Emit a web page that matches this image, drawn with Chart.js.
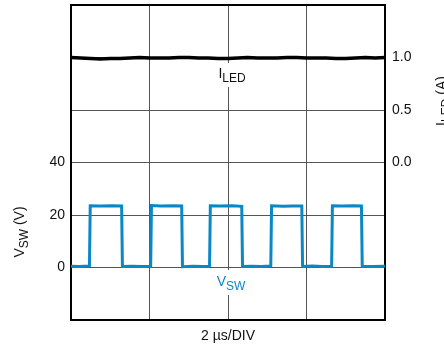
<!DOCTYPE html>
<html>
<head>
<meta charset="utf-8">
<script src="https://cdn.jsdelivr.net/npm/chart.js@4"></script>
<style>
  body { margin: 0; background: #fff; }
  #wrap { width: 444px; height: 347px; }
</style>
</head>
<body>
<div id="wrap"><canvas id="scope"></canvas></div>
<script>
// time axis in µs, 2 µs per division
const xTicks = [0, 2, 4, 6, 8]
const vswTicksShown = [0, 20, 40]
const iledTicksShown = [0, 0.5, 1]

// switch node voltage (V)
const vswTime = [
  0.00, 0.20, 0.47, 0.49, 0.75, 1.05, 1.29, 1.31, 1.55, 1.80, 2.03, 2.05,
  2.30, 2.60, 2.82, 2.84, 3.10, 3.35, 3.53, 3.55, 3.80, 4.10, 4.35, 4.37,
  4.60, 4.85, 5.09, 5.11, 5.40, 5.65, 5.88, 5.90, 6.15, 6.40, 6.64, 6.66,
  6.90, 7.20, 7.40, 7.42, 7.70, 8.00
]
const vswVolts = [
  0.5, 0.4, 0.6, 23.5, 23.4, 23.5, 23.4, 0.4, 0.5, 0.4, 0.5, 23.6,
  23.4, 23.5, 23.4, 0.3, 0.5, 0.4, 0.5, 23.5, 23.4, 23.5, 23.3, 0.4,
  0.5, 0.4, 0.6, 23.5, 23.3, 23.4, 23.4, 0.4, 0.6, 0.4, 0.5, 23.5,
  23.4, 23.5, 23.4, 0.5, 0.4, 0.5
]

// LED current (A)
const iledTime = [
  0.00, 0.25, 0.50, 0.75, 1.00, 1.25, 1.50, 1.75, 2.00, 2.25, 2.50, 2.75,
  3.00, 3.25, 3.50, 3.75, 4.00, 4.25, 4.50, 4.75, 5.00, 5.25, 5.50, 5.75,
  6.00, 6.25, 6.50, 6.75, 7.00, 7.25, 7.50, 7.75, 8.00
]
const iledAmps = [
  1.00, 0.995, 0.99, 0.985, 0.99, 0.99, 0.995, 1.00, 0.995, 0.995, 0.995, 1.00,
  1.00, 0.995, 0.995, 0.99, 0.99, 0.995, 1.00, 0.995, 0.995, 0.995, 1.00, 1.00,
  0.995, 0.995, 0.995, 0.99, 0.99, 0.995, 1.00, 0.995, 1.00
]

const blue = '#0a88c6'
const font = 'Liberation Sans, Arial, sans-serif'

function pairs(xs, ys) {
  return xs.map((x, i) => ({ x: x, y: ys[i] }))
}

// draw "main" + subscript text, centred on cx
function subText(ctx, main, sub, tail, cx, cy) {
  ctx.font = '14px ' + font
  const w1 = ctx.measureText(main).width
  const w3 = tail ? ctx.measureText(tail).width : 0
  ctx.font = '12px ' + font
  const w2 = ctx.measureText(sub).width
  let x = cx - (w1 + w2 + w3) / 2
  ctx.textAlign = 'left'
  ctx.textBaseline = 'alphabetic'
  ctx.font = '14px ' + font
  ctx.fillText(main, x, cy)
  x += w1
  ctx.font = '12px ' + font
  ctx.fillText(sub, x, cy + 4)
  x += w2
  if (tail) {
    ctx.font = '14px ' + font
    ctx.fillText(tail, x, cy)
  }
}

function noPad(s) {
  s.paddingTop = 0
  s.paddingBottom = 0
}

const scopeLabels = {
  id: 'scopeLabels',
  beforeDatasetsDraw(chart) {
    const { ctx, chartArea: a } = chart
    ctx.save()
    // white boxes behind in-plot labels
    ctx.fillStyle = '#fff'
    ctx.fillRect(214, 63, 36, 24)
    ctx.fillRect(212, 270, 38, 25)
    // frame
    ctx.strokeStyle = '#000'
    ctx.lineWidth = 2
    ctx.strokeRect(a.left, a.top, a.right - a.left, a.bottom - a.top)
    ctx.restore()
  },
  afterDatasetsDraw(chart) {
    const { ctx } = chart
    ctx.save()
    ctx.fillStyle = '#111'
    subText(ctx, 'I', 'LED', '', 232, 78)
    ctx.fillStyle = blue
    subText(ctx, 'V', 'SW', '', 231, 286)

    ctx.fillStyle = '#111'
    ctx.font = '14px ' + font
    ctx.textAlign = 'center'
    ctx.fillText('2 µs/DIV', 228, 340)

    ctx.translate(24, 232)
    ctx.rotate(-Math.PI / 2)
    subText(ctx, 'V', 'SW', ' (V)', 0, 0)
    ctx.restore()

    ctx.save()
    ctx.fillStyle = '#111'
    ctx.translate(446, 101)
    ctx.rotate(-Math.PI / 2)
    subText(ctx, 'I', 'LED', ' (A)', 0, 0)
    ctx.restore()
  }
}

new Chart(document.getElementById('scope'), {
  type: 'line',
  data: {
    datasets: [
      {
        label: 'ILED',
        data: pairs(iledTime, iledAmps),
        yAxisID: 'yI',
        borderColor: '#000',
        borderWidth: 3.5,
        pointRadius: 0,
        tension: 0
      },
      {
        label: 'VSW',
        data: pairs(vswTime, vswVolts),
        yAxisID: 'yV',
        borderColor: blue,
        borderWidth: 3,
        pointRadius: 0,
        tension: 0
      }
    ]
  },
  options: {
    responsive: true,
    maintainAspectRatio: false,
    animation: false,
    layout: { padding: { top: 5, left: 0, right: 0, bottom: 0 } },
    plugins: {
      legend: { display: false },
      tooltip: { enabled: false }
    },
    scales: {
      x: {
        type: 'linear',
        min: xTicks[0],
        max: xTicks[xTicks.length - 1],
        ticks: { display: false, stepSize: 2 },
        grid: { color: '#555', lineWidth: 1, drawTicks: false },
        border: { display: false },
        afterFit: (s) => { s.height = 27; s.paddingLeft = 0; s.paddingRight = 0 }
      },
      yV: {
        position: 'left',
        min: -20,
        max: 100,
        ticks: {
          stepSize: 20,
          padding: 6,
          color: '#111',
          font: { family: font, size: 14 },
          callback: (v) => vswTicksShown.includes(v) ? String(v) : ''
        },
        grid: { color: '#555', lineWidth: 1, drawTicks: false },
        border: { display: false },
        afterFit: (s) => { s.width = 71; noPad(s) }
      },
      yI: {
        position: 'right',
        min: -1.5,
        max: 1.5,
        ticks: {
          stepSize: 0.5,
          padding: 7,
          color: '#111',
          font: { family: font, size: 14 },
          callback: (v) => iledTicksShown.includes(v) ? v.toFixed(1) : ''
        },
        grid: { display: false, drawTicks: false },
        border: { display: false },
        afterFit: (s) => { s.width = 59; noPad(s) }
      }
    }
  },
  plugins: [scopeLabels]
})
</script>
</body>
</html>
